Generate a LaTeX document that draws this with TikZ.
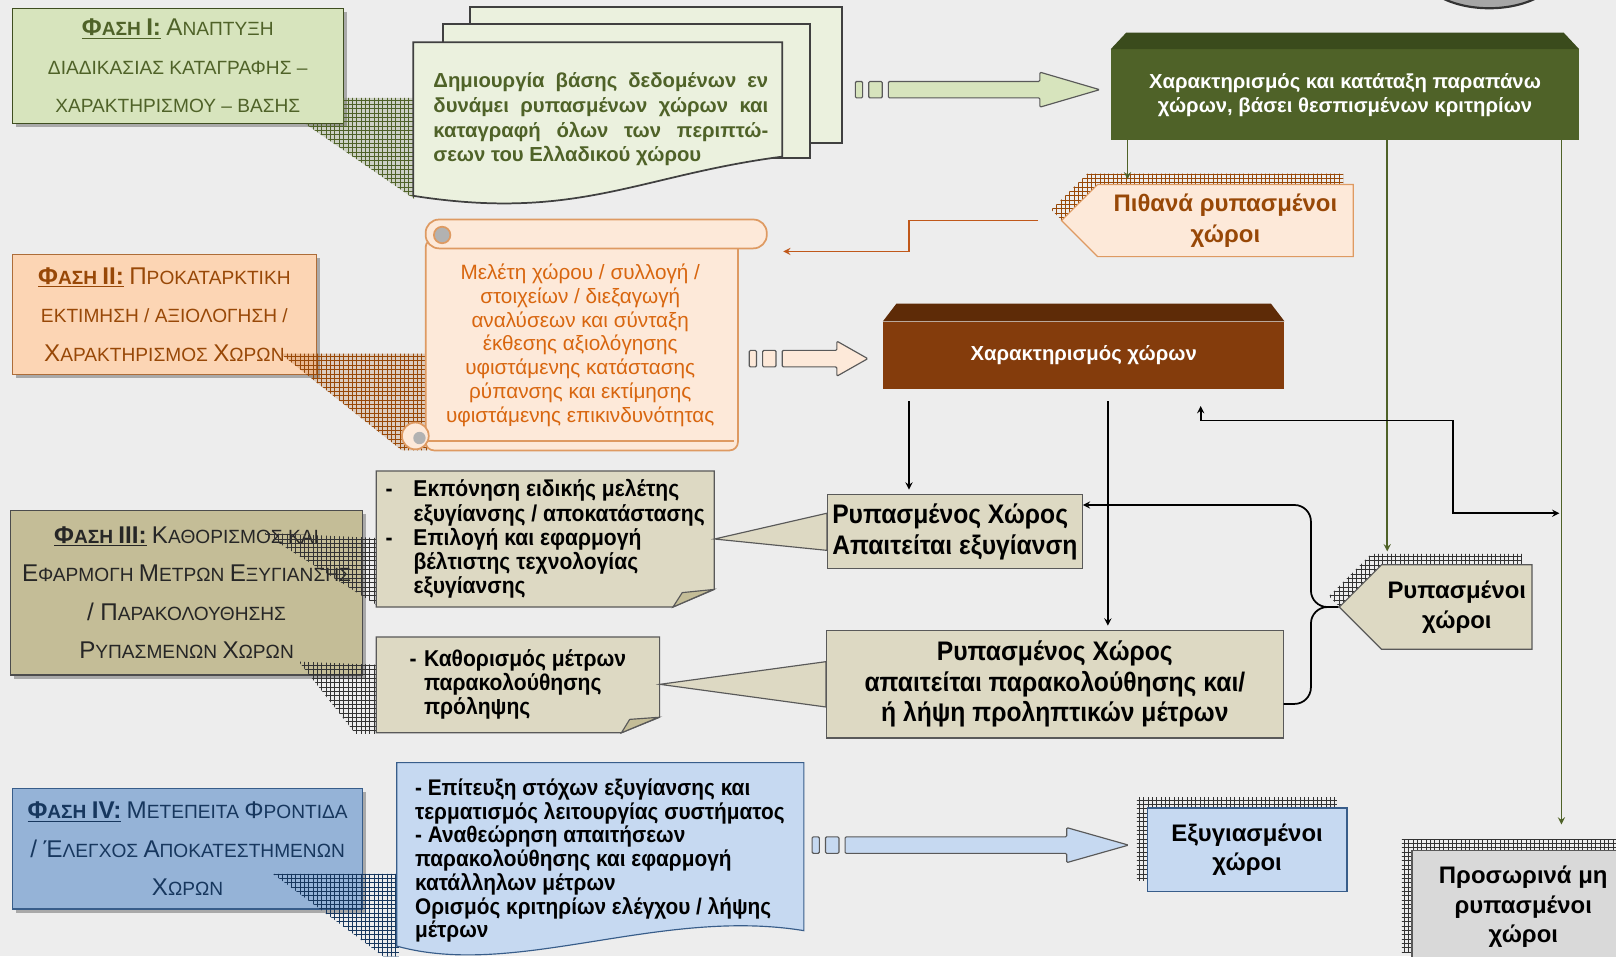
\documentclass[tikz,border=0pt]{standalone}
\usepackage{fontspec}
\setmainfont{Liberation Sans}
\newfontfamily\narrowf[FakeStretch=0.92]{Liberation Sans}
\usetikzlibrary{calc,patterns,shadows,shapes.symbols}

\definecolor{bgc}{HTML}{EDEDED}
\definecolor{oliv}{HTML}{4F6228}
\definecolor{olivl}{HTML}{D7E4BD}
\definecolor{olivp}{HTML}{EBF1DE}
\definecolor{crt}{HTML}{3A4B1C}
\definecolor{brn}{HTML}{984807}
\definecolor{orl}{HTML}{FCD5B4}
\definecolor{orp}{HTML}{FDE9D9}
\definecolor{orb}{HTML}{DE9A62}
\definecolor{ort}{HTML}{D8660F}
\definecolor{orline}{HTML}{C0581A}
\definecolor{chb}{HTML}{843C0C}
\definecolor{chbt}{HTML}{5E2B07}
\definecolor{tanc}{HTML}{C4BD97}
\definecolor{tanl}{HTML}{DDD9C3}
\definecolor{blu}{HTML}{95B3D7}
\definecolor{blul}{HTML}{C6D9F1}
\definecolor{blud}{HTML}{17375E}
\definecolor{blub}{HTML}{385D8A}
\definecolor{gryd}{HTML}{595959}

\newlength\pxu
\setlength\pxu{0.025cm}
\newcommand\sC[2]{{\fontsize{16.7}{26.5}\selectfont #1}#2}
\newcommand\stubarrow[4]{%
  \draw[stub,fill=#3] ($(#1)+(0,-8)$) rectangle ($(#1)+(7,8)$);
  \draw[stub,fill=#3] ($(#1)+(13,-8)$) rectangle ($(#1)+(26,8)$);
  \draw[stub,fill=#3] ($(#1)+(32,-8)$) -- ($(#2)+(-#4,-8)$) -- ($(#2)+(-#4,-17)$)
    -- (#2) -- ($(#2)+(-#4,17)$) -- ($(#2)+(-#4,8)$) -- ($(#1)+(32,8)$) -- cycle;}

\tikzstyle{phase}=[rectangle, thick, align=center, font=\fontsize{13.2}{26.5}\selectfont,
  drop shadow={shadow xshift=2.5pt, shadow yshift=-2.5pt, fill=black!60, opacity=.5}]
\tikzstyle{docs}=[draw=black!75, line width=1.2pt, fill=olivp]
\tikzstyle{scrl}=[draw=orb, line width=1.2pt, fill=orp]
\tikzstyle{note}=[draw=gryd, thick, fill=tanl]
\tikzstyle{notet}=[align=left, font=\narrowf\bfseries\fontsize{15.8}{16.7}\selectfont]
\tikzstyle{bevel}=[rectangle, text=white, align=center, font=\bfseries\fontsize{14}{16.5}\selectfont]
\tikzstyle{box}=[rectangle, draw=gryd, fill=tanl, thick, align=center, font=\narrowf\bfseries\fontsize{18.5}{21}\selectfont]
\tikzstyle{place}=[rectangle, thick, align=center, font=\bfseries\fontsize{16.5}{20.5}\selectfont]
\tikzstyle{sig}=[signal, signal to=west, signal pointer angle=90, thick, align=center,
  font=\bfseries\fontsize{16.5}{21}\selectfont]
\tikzstyle{stub}=[draw=gryd, line width=0.8pt, rounded corners=0.8pt]
\tikzstyle{edge}=[draw, line width=1.2pt, ->]
\tikzstyle{gline}=[draw=oliv, line width=1.2pt, ->]
\tikzstyle{oline}=[draw=orline, line width=1.2pt, ->]
\tikzset{hatchsh/.style={general shadow={shadow xshift=-7pt, shadow yshift=7.5pt, pattern=grid, pattern color=#1}}}

\begin{document}
\begin{tikzpicture}[x=0.025cm, y=-0.025cm, >=stealth]
  \useasboundingbox (0,0) rectangle (1568,928);
  \fill[bgc] (0,0) rectangle (1568,928);
  \draw[line width=1.5pt, draw=black!80, fill=black!35] (1445,-30) ellipse [x radius=68\pxu, y radius=38\pxu];

  % Phase I: box, documents and arrow
  \node[phase, draw=oliv!80!black, fill=olivl, text=oliv, minimum width=321\pxu, minimum height=112\pxu] (ph1) at (172.5,64)
    {\underline{\textbf{\sC{Φ}{ΑΣΗ} \sC{I:}{}}} \sC{Α}{ΝΑΠΤΥΞΗ}\\ΔΙΑΔΙΚΑΣΙΑΣ ΚΑΤΑΓΡΑΦΗΣ –\\ΧΑΡΑΚΤΗΡΙΣΜΟΥ – ΒΑΣΗΣ};
  \path[pattern=grid, pattern color=oliv, preaction={fill=oliv, fill opacity=.2}]
    (333,95) -- (402,95) -- (402,193) -- (296,120) -- (333,120) -- cycle;
  \draw[docs] (456,7) rectangle (817,139);
  \draw[docs] (430,23) rectangle (786,153);
  \draw[docs] (401,41) -- (759,41) -- (759,152) .. controls (620,170) and (560,215) .. (401,190) -- cycle;
  \node[text=oliv, align=left, font=\bfseries\fontsize{14}{17}\selectfont] (db) at (583,116)
    {\makebox[231pt][s]{Δημιουργία βάσης δεδομένων εν}\\\makebox[231pt][s]{δυνάμει ρυπασμένων χώρων και}\\
     \makebox[231pt][s]{καταγραφή όλων των περιπτώ-}\\σεων του Ελλαδικού χώρου};
  \coordinate (a1s) at (830,87);
  \coordinate (a1e) at (1067,87);
  \stubarrow{a1s}{a1e}{olivl}{58}

  % classification box
  \node[bevel, fill=oliv, minimum width=454\pxu, minimum height=88\pxu] (crit) at (1305,92)
    {Χαρακτηρισμός και κατάταξη παραπάνω\\χώρων, βάσει θεσπισμένων κριτηρίων};
  \fill[crt] (crit.north west) -- ++(15,-16) -- ($(crit.north east)+(-15,-16)$) -- (crit.north east) -- cycle;

  \node[sig, fill=orp, draw=orb, text=brn, hatchsh=brn, minimum width=283\pxu, minimum height=70\pxu] (pith) at (1189,214)
    {Πιθανά ρυπασμένοι\\χώροι};

  \coordinate (g1) at (1094,174);
  \coordinate (g2) at (1346,535);
  \coordinate (g3) at (1515,800);
  \foreach \g in {g1,g2,g3}
    \draw[gline] (\g |- crit.south) -- (\g);

  % Phase II: box, scroll and arrow
  \node[phase, draw=brn!80, fill=orl, text=brn, minimum width=295\pxu, minimum height=116\pxu] (ph2) at (159.5,305)
    {\underline{\textbf{\sC{Φ}{ΑΣΗ} \sC{II:}{}}} \sC{Π}{ΡΟΚΑΤΑΡΚΤΙΚΗ}\\ΕΚΤΙΜΗΣΗ / ΑΞΙΟΛΟΓΗΣΗ /\\\sC{Χ}{ΑΡΑΚΤΗΡΙΣΜΟΣ} \sC{Χ}{ΩΡΩΝ}};
  \path[pattern=grid, pattern color=brn, preaction={fill=brn, fill opacity=.2}]
    (272,343) -- (415,343) -- (415,437) -- (390,437) -- cycle;
  \draw[scrl, rounded corners=8\pxu] (413,232) rectangle (716,437);
  \draw[scrl] (413,428) -- (712,428);
  \draw[scrl, rounded corners=13\pxu] (413,213) rectangle (744,241);
  \draw[scrl, fill=black!30] (429,228) circle[radius=8\pxu];
  \draw[scrl] (403,423) circle[radius=13\pxu];
  \fill[black!30] (407,425) circle[radius=6\pxu];
  \node[text=ort, align=center, font=\fontsize{14.3}{16.5}\selectfont] (scr) at (563,335)
    {Μελέτη χώρου / συλλογή /\\στοιχείων / διεξαγωγή\\αναλύσεων και σύνταξη\\έκθεσης αξιολόγησης\\υφιστάμενης κατάστασης\\ρύπανσης και εκτίμησης\\υφιστάμενης επικινδυνότητας};
  \coordinate (o1) at (760,244);
  \draw[oline] ([xshift=-22\pxu]pith.west) -- ++(-125,0) |- (o1);
  \coordinate (a2s) at (727,348);
  \coordinate (a2e) at (842,348);
  \stubarrow{a2s}{a2e}{orp}{30}

  \node[bevel, fill=chb, minimum width=389\pxu, minimum height=65\pxu] (char) at (1051.5,344.5) {Χαρακτηρισμός χώρων};
  \fill[chbt] (char.north west) -- ++(13,-17) -- ($(char.north east)+(-13,-17)$) -- (char.north east) -- cycle;

  % Phase III: box, notes and contaminated sites
  \node[phase, draw=black!70, fill=tanc, text=black!85, minimum width=342\pxu, minimum height=160\pxu] (ph3) at (181,575)
    {\underline{\textbf{\sC{Φ}{ΑΣΗ} \sC{III:}{}}} \sC{Κ}{ΑΘΟΡΙΣΜΟΣ} ΚΑΙ\\\sC{Ε}{ΦΑΡΜΟΓΗ} \sC{Μ}{ΕΤΡΩΝ} \sC{Ε}{ΞΥΓΙΑΝΣΗΣ}\\\sC{/ Π}{ΑΡΑΚΟΛΟΥΘΗΣΗΣ}\\\sC{Ρ}{ΥΠΑΣΜΕΝΩΝ} \sC{Χ}{ΩΡΩΝ}};
  \path[pattern=grid, pattern color=black!80] (255,517) -- (367,522) -- (367,588) -- cycle;
  \path[pattern=grid, pattern color=black!80] (290,642) -- (367,645) -- (367,712) -- (345,712) -- cycle;
  \draw[note] (365,457) -- (693,457) -- (693,572) -- (653,589) -- (365,589) -- cycle;
  \draw[note, fill=tanc] (653,589) -- (692,572) -- (662,575) -- cycle;
  \draw[note] (365,618) -- (640,618) -- (640,696) -- (603,711) -- (365,711) -- cycle;
  \draw[note, fill=tanc] (603,711) -- (639,696) -- (611,698) -- cycle;
  \node[notet, minimum width=328\pxu, minimum height=131\pxu] (n1) at (529,523)
    {\makebox[27\pxu][l]{-}Εκπόνηση ειδικής μελέτης\\\hspace*{27\pxu}εξυγίανσης / αποκατάστασης\\
     \makebox[27\pxu][l]{-}Επιλογή και εφαρμογή\\\hspace*{27\pxu}βέλτιστης τεχνολογίας\\\hspace*{27\pxu}εξυγίανσης};
  \node[notet, minimum width=275\pxu, minimum height=92\pxu] (n2) at (502.5,664)
    {\makebox[14\pxu][l]{-}Καθορισμός μέτρων\\\hspace*{14\pxu}παρακολούθησης\\\hspace*{14\pxu}πρόληψης};

  \node[box, align=left, minimum width=243\pxu, minimum height=72\pxu] (rx1) at (926.5,516) {Ρυπασμένος Χώρος\\Απαιτείται εξυγίανση};
  \node[box, minimum width=443\pxu, minimum height=104\pxu] (rx2) at (1023.5,664)
    {Ρυπασμένος Χώρος\\απαιτείται παρακολούθησης και/\\ή λήψη προληπτικών μέτρων};
  \draw[note] (n1.east) -- ($(rx1.west)+(0,-18)$) -- ($(rx1.west)+(0,18)$) -- cycle;
  \draw[note] (n2.east) -- ($(rx2.west)+(0,-22)$) -- ($(rx2.west)+(0,22)$) -- cycle;

  \node[sig, fill=tanl, draw=gryd, hatchsh=black!80, minimum width=187\pxu, minimum height=82\pxu] (rm) at (1413.5,589)
    {Ρυπασμένοι\\χώροι};

  \coordinate (b1) at (882,475);
  \coordinate (b2) at (1075,607);
  \foreach \b in {b1,b2}
    \draw[edge, shorten <=12\pxu] (\b |- char.south) -- (\b);
  \coordinate (r1) at (1165,394);
  \coordinate (r2) at (1513,498);
  \draw[edge, <->] (r1) |- (1410,408) |- (r2);
  \coordinate (h1) at (1272,490);
  \coordinate (h2) at (1272,683);
  \draw[edge, rounded corners=16\pxu] (rm.west) -| (h1) -- (h1 -| rx1.east);
  \draw[line width=1.2pt, rounded corners=16\pxu] (rm.west) -| (h2) -- (h2 -| rx2.east);

  % Phase IV: box, note and restored sites
  \node[phase, draw=blub, fill=blu, text=blud, minimum width=340\pxu, minimum height=117\pxu] (ph4) at (182,823.5)
    {\underline{\textbf{\sC{Φ}{ΑΣΗ} \sC{IV:}{}}} \sC{Μ}{ΕΤΕΠΕΙΤΑ} \sC{Φ}{ΡΟΝΤΙΔΑ}\\\sC{/ Έ}{ΛΕΓΧΟΣ} \sC{Α}{ΠΟΚΑΤΕΣΤΗΜΕΝΩΝ}\\\sC{Χ}{ΩΡΩΝ}};
  \path[pattern=grid, pattern color=blud] (265,848) -- (387,848) -- (387,928) -- (372,928) -- cycle;
  \draw[thick, draw=blub, fill=blul] (385,740) -- (780,740) -- (780,903) .. controls (640,880) and (500,950) .. (385,918) -- cycle;
  \node[notet, font=\narrowf\bfseries\fontsize{15.6}{16.4}\selectfont] (n4) at (582,835)
    {- Επίτευξη στόχων εξυγίανσης και\\τερματισμός λειτουργίας συστήματος\\- Αναθεώρηση απαιτήσεων\\
     παρακολούθησης και εφαρμογή\\κατάλληλων μέτρων\\Ορισμός κριτηρίων ελέγχου / λήψης\\μέτρων};
  \coordinate (a3s) at (788,820);
  \coordinate (a3e) at (1095,820);
  \stubarrow{a3s}{a3e}{blul}{60}

  \node[place, draw=blub, fill=blul, hatchsh=black!80, minimum width=194\pxu, minimum height=81\pxu] (ex) at (1210,824.5)
    {Εξυγιασμένοι\\χώροι};
  \node[place, draw=gryd, fill=black!15, hatchsh=black!80, minimum width=216\pxu, minimum height=110\pxu] (pr) at (1478,880)
    {Προσωρινά μη\\ρυπασμένοι\\χώροι};
\end{tikzpicture}
\end{document}
